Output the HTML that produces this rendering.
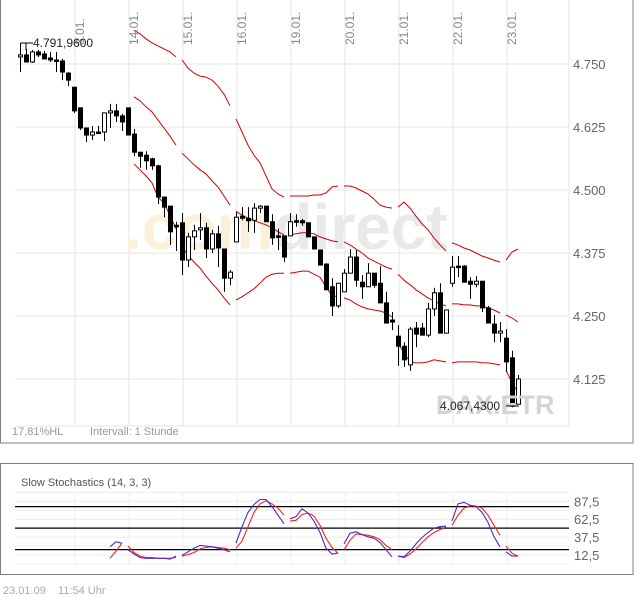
<!DOCTYPE html>
<html><head><meta charset="utf-8"><style>
html,body{margin:0;padding:0;background:#fff;}
svg{display:block;font-family:"Liberation Sans",sans-serif;}
</style></head><body>
<svg id="chart" width="634" height="597" viewBox="0 0 634 597" xmlns="http://www.w3.org/2000/svg">
<rect x="0.5" y="-2" width="632.5" height="445" fill="#fff" stroke="#808080"/>
<g id="grid"></g>
<g font-weight="bold" font-size="64">
<text x="124" y="249"><tspan fill="#fbf1da">.com</tspan><tspan fill="#e8e9e8">direct</tspan></text>
</g>
<g id="bands"></g>
<g id="candles"></g>
<g id="labels"></g>
<text x="436" y="414" font-size="27" font-weight="bold" fill="#d4d4d4">DAX.ETR</text>
<line x1="21" y1="43" x2="33" y2="43" stroke="#000"/>
<line x1="26" y1="43" x2="26" y2="50" stroke="#000"/>
<text x="33" y="47" font-size="12" fill="#222">4.791,9600</text>
<text x="440" y="410" font-size="12" fill="#222">4.067,4300</text>
<line x1="506" y1="406" x2="519" y2="406" stroke="#000"/>
<text x="12" y="435" font-size="11" fill="#999">17,81%HL</text>
<text x="90" y="435" font-size="11" fill="#999">Intervall: 1 Stunde</text>

<rect x="0.5" y="463.5" width="632.5" height="111" fill="#fff" stroke="#808080"/>
<text x="21" y="486" font-size="11" fill="#555">Slow Stochastics (14, 3, 3)</text>
<g id="stoch"></g>
<text x="3" y="594" font-size="11" fill="#aaa">23.01.09 &#160;&#160; 11:54 Uhr</text>
</svg>
<script>
const dayLabels=["3.01.","14.01.","15.01.","16.01.","19.01.","20.01.","21.01.","22.01.","23.01."];
const priceTicks=[4750,4625,4500,4375,4250,4125];
const priceTickLabels=["4.750","4.625","4.500","4.375","4.250","4.125"];
const opens=[4764,4768,4754,4774,4770,4762,4758,4756,4732,4704,4663,4623,4609,4615,4615,4653,4657,4647,4663,4611,4575,4569,4562,4548,4486,4468,4430,4435,4361,4407,4421,4425,4383,4413,4383,4325,4397,4448,4444,4440,4464,4468,4437,4409,4409,4409,4439,4439,4435,4407,4381,4353,4308,4270,4298,4335,4367,4317,4308,4335,4315,4276,4242,4210,4190,4153,4226,4226,4212,4264,4296,4216,4315,4349,4349,4319,4313,4319,4266,4234,4216,4206,4167,4075];
const highs=[4792,4780,4778,4778,4776,4774,4774,4760,4734,4704,4663,4623,4627,4627,4653,4671,4671,4651,4663,4621,4575,4577,4564,4550,4486,4468,4437,4454,4415,4431,4454,4435,4421,4429,4383,4341,4456,4466,4466,4474,4470,4468,4452,4423,4409,4454,4452,4443,4435,4407,4381,4355,4325,4315,4343,4383,4381,4331,4355,4335,4349,4298,4258,4232,4198,4228,4238,4236,4276,4306,4315,4262,4369,4369,4351,4327,4329,4319,4270,4252,4238,4224,4181,4133];
const lows=[4734,4754,4752,4764,4760,4754,4734,4718,4706,4653,4619,4595,4599,4611,4597,4623,4635,4617,4609,4567,4544,4540,4540,4472,4446,4391,4379,4331,4347,4381,4401,4365,4375,4347,4298,4311,4397,4440,4417,4415,4454,4437,4391,4381,4357,4409,4427,4429,4407,4383,4351,4302,4250,4266,4298,4335,4308,4284,4308,4306,4276,4236,4222,4151,4149,4141,4188,4212,4208,4250,4216,4216,4308,4327,4317,4284,4307,4258,4236,4198,4198,4139,4069,4075];
const closes=[4768,4754,4774,4768,4760,4758,4756,4734,4718,4657,4623,4609,4615,4613,4653,4657,4647,4635,4609,4575,4567,4558,4548,4486,4466,4417,4428,4361,4407,4419,4425,4383,4413,4385,4325,4337,4446,4444,4439,4464,4468,4437,4405,4407,4367,4437,4437,4435,4407,4383,4351,4302,4270,4315,4335,4367,4321,4308,4335,4311,4276,4236,4238,4190,4163,4224,4214,4212,4264,4296,4216,4262,4347,4347,4317,4313,4319,4266,4236,4216,4220,4159,4071,4125];
const bandFirst=19;
const upperBand=[4817,4810,4800,4792,4786,4780,4774,4764,4758,4742,4732,4726,4724,4718,4706,4690,4667,4641,4615,4589,4569,4554,4528,4502,4492,4486,4488,4488,4488,4488,4490,4490,4494,4506,4508,4508,4508,4504,4498,4492,4482,4470,4466,4464,4466,4476,4464,4448,4433,4421,4405,4391,4379,4395,4391,4385,4381,4375,4369,4365,4361,4357,4361,4377,4383];
const middleBand=[4685,4677,4665,4655,4639,4623,4607,4589,4573,4562,4550,4540,4532,4518,4506,4488,4470,4458,4450,4444,4439,4435,4431,4425,4417,4411,4411,4413,4415,4415,4413,4407,4403,4399,4397,4397,4391,4383,4375,4365,4359,4353,4347,4343,4333,4321,4312,4302,4294,4286,4280,4274,4270,4274,4274,4272,4272,4270,4270,4266,4262,4256,4252,4246,4238];
const lowerBand=[4552,4540,4528,4514,4486,4474,4450,4423,4387,4371,4357,4345,4329,4315,4302,4286,4272,4282,4288,4296,4304,4315,4327,4333,4335,4335,4335,4337,4339,4339,4333,4327,4308,4290,4288,4286,4282,4274,4268,4264,4262,4260,4256,4248,4196,4177,4159,4157,4157,4159,4163,4161,4159,4157,4159,4159,4159,4159,4157,4157,4155,4153,4143,4117,4099];
const bandSegStarts=[19,27,36,45,54,63,72,81];
const stochFirst=15;
const stochK=[24,31,29,20,14,9,8,8,8,8,7,11,12,17,22,26,25,24,22,20,17,29,52,72,83,90,90,80,68,56,63,66,77,71,60,44,22,14,15,28,43,45,41,38,36,30,20,10,11,10,18,28,37,44,50,52,53,60,84,86,82,80,72,58,38,24,17,11,11];
const stochD=[8,18,29,25,16,11,9,9,8,8,8,9,11,13,16,21,23,24,23,22,20,22,32,52,72,84,88,84,78,68,60,61,69,71,67,54,36,23,15,20,33,42,41,40,38,34,26,20,11,9,14,21,30,38,44,48,52,54,68,78,81,81,78,68,54,40,25,15,11];
const stochSegStarts=[15,18,27,36,45,54,63,72,81];
const stochLevels=[80,50,20];
const stochGrid=[100,87.5,75,62.5,37.5,25,12.5,0];
const stochTicks=[87.5,62.5,37.5,12.5];
const stochTickLabels=["87,5","62,5","37,5","12,5"];

const NS="http://www.w3.org/2000/svg";
function xK(k){return 20+6*k;}
function yP(p){return 64+(4750-p)*0.504;}
function yS(v){return 564-0.717*v;}
function mk(tag,attrs,parent){const e=document.createElementNS(NS,tag);for(const a in attrs)e.setAttribute(a,attrs[a]);parent.appendChild(e);return e;}

const grid=document.getElementById('grid');
priceTicks.forEach((p,i)=>{
  const l=mk('line',{x1:15,x2:569,y1:yP(p),y2:yP(p),stroke:'#e4e4e4'},grid);
  
  
  const t=mk('text',{x:573,y:yP(p)+5,'font-size':13,fill:'#666'},document.getElementById('labels'));
  t.textContent=priceTickLabels[i];
  
  
});
const bl=mk('line',{x1:15,x2:569,y1:426,y2:426,stroke:'#e4e4e4'},grid);


const rl=mk('line',{x1:569,x2:569,y1:0,y2:426,stroke:'#e4e4e4'},grid);


dayLabels.forEach((d,i)=>{
  const gx=75+54*i;
  const l=mk('line',{x1:gx,x2:gx,y1:0,y2:426,stroke:'#e4e4e4'},grid);
  
  
  const t=mk('text',{x:0,y:0,'font-size':12,fill:'#888',transform:`translate(${gx+9},45) rotate(-90)`},document.getElementById('labels'));
  t.textContent=d;
  
  
});

function drawSegs(arr,first,starts,fy,color,parent,name,w){
  let d='';
  arr.forEach((v,i)=>{const k=first+i;const cmd=(i===0||starts.includes(k))?'M':'L';d+=cmd+xK(k)+','+fy(v).toFixed(1)+' ';});
  const p=mk('path',{d:d,fill:'none',stroke:color,'stroke-width':w},parent);
  
  
}
const bands=document.getElementById('bands');
drawSegs(upperBand,bandFirst,bandSegStarts,yP,'#d40000',bands,'upper-band',1);
drawSegs(middleBand,bandFirst,bandSegStarts,yP,'#d40000',bands,'middle-band',1);
drawSegs(lowerBand,bandFirst,bandSegStarts,yP,'#d40000',bands,'lower-band',1);

const cg=document.getElementById('candles');
opens.forEach((o,k)=>{
  const c=closes[k],x=xK(k)+0.5;
  const w=mk('line',{x1:x,x2:x,y1:yP(highs[k]),y2:yP(lows[k]),stroke:'#000','stroke-width':1},cg);
  
  
  const top=yP(Math.max(o,c)),bot=yP(Math.min(o,c));
  const up=c>o;
  const r=mk('rect',{x:x-2,y:top,width:4,height:Math.max(bot-top,1.5),fill:up?'#fff':'#000',stroke:'#000','stroke-width':1},cg);
  
  
});

const sg=document.getElementById('stoch');
stochGrid.forEach(v=>{
  const l=mk('line',{x1:15,x2:569,y1:yS(v),y2:yS(v),stroke:'#ececec'},sg);
  
  
});
dayLabels.forEach((d,i)=>{
  const gx=75+54*i;
  const l=mk('line',{x1:gx,x2:gx,y1:yS(100),y2:yS(0),stroke:'#ececec'},sg);
  
  
});
stochLevels.forEach(v=>{
  const l=mk('line',{x1:15,x2:569,y1:yS(v),y2:yS(v),stroke:'#000','stroke-width':1.3},sg);
  
  
});
stochTicks.forEach((v,i)=>{
  const t=mk('text',{x:574,y:yS(v)+5,'font-size':13,fill:'#666'},sg);
  t.textContent=stochTickLabels[i];
  
  
});
drawSegs(stochD,stochFirst,stochSegStarts,yS,'#ff2020',sg,'stoch-d-line',1.1);
drawSegs(stochK,stochFirst,stochSegStarts,yS,'#4a2cc4',sg,'stoch-k-line',1.1);
</script>
</body></html>
